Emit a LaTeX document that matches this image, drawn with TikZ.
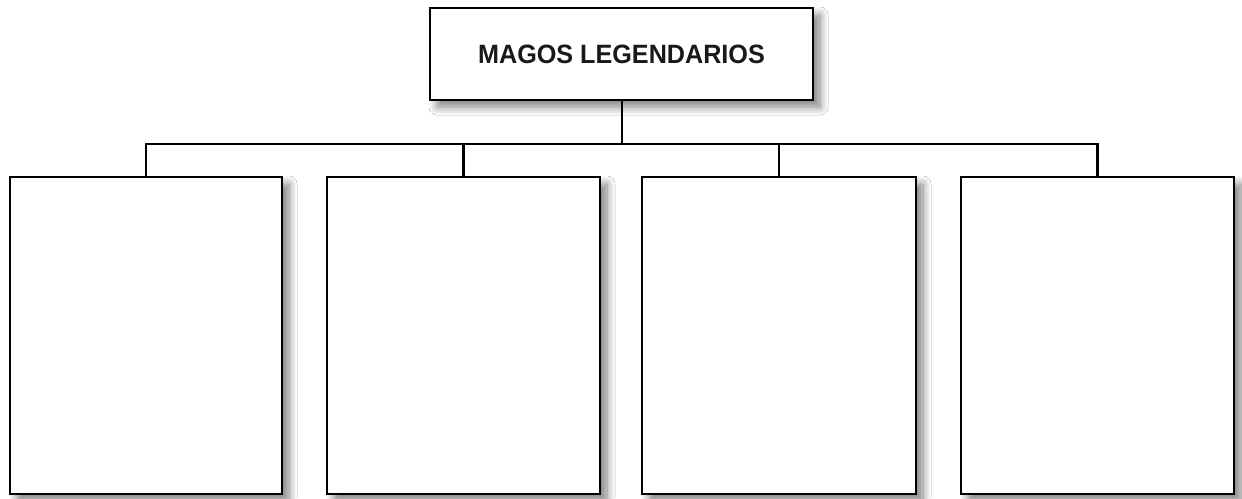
\documentclass[tikz,border=0pt]{standalone}
\usepackage{fontspec}
\setmainfont{Liberation Sans}
\usetikzlibrary{shadows,shadows.blur}
\begin{document}
\begin{tikzpicture}[x=1pt,y=-1pt,
  box/.style={draw=black,line width=2.6pt,fill=white,
    blur shadow={shadow xshift=7pt,shadow yshift=-7pt,shadow blur steps=12,shadow opacity=50,shadow blur radius=8pt}},
  conn/.style={draw=black,line width=2.4pt},
  thin conn/.style={draw=black,line width=1.2pt}]
\useasboundingbox[fill=white] (0,0) rectangle (1242,498);
\path[box] (430,8) rectangle (813,100);
\coordinate (topb) at (622,100);
\node[font=\fontsize{26.5}{26.5}\bfseries,xscale=0.95,text=black!90] (title) at (621.5,54) {MAGOS LEGENDARIOS};
\path[box] (10,177) rectangle (282,494);
\path[box] (327,177) rectangle (600,494);
\path[box] (642,177) rectangle (916,494);
\path[box] (961,177) rectangle (1234,494);
\coordinate (b1) at (146,177);
\coordinate (b2) at (463.5,177);
\coordinate (b3) at (779,177);
\coordinate (b4) at (1097.5,177);
\coordinate (bar) at (622,144);
\draw[thin conn] (topb) -- (bar);
\draw[conn,line cap=rect] (b1) |- (bar) -| (b4);
\draw[conn] (b2) -- (b2 |- bar);
\draw[conn] (b3) -- (b3 |- bar);
\end{tikzpicture}
\end{document}
